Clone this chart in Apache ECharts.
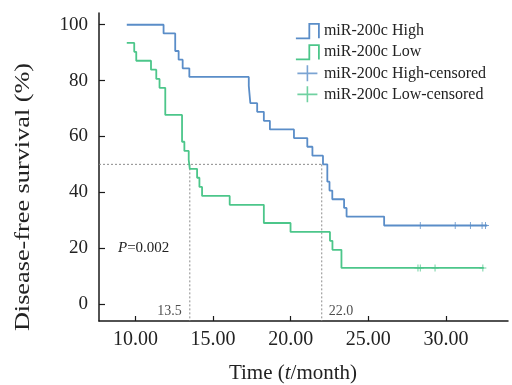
<!DOCTYPE html>
<html><head><meta charset="utf-8">
<script src="https://cdn.jsdelivr.net/npm/echarts@6/dist/echarts.min.js"></script>
<style>html,body{margin:0;padding:0;background:#fff}#c{width:512px;height:385px}</style>
</head><body><div id="c"></div>
<script>
// Kaplan-Meier steps
const highTimes = [9.44, 11.81, 12.56, 12.78, 13.04, 13.47, 17.30, 17.40, 17.84, 18.27, 18.66, 20.21, 21.07, 21.40, 22.08, 22.36, 22.50, 22.68, 23.44, 23.60, 26.02, 32.66];
const highSurv  = [100, 96.9, 90.6, 87.5, 84.4, 81.3, 78.1, 71.9, 68.8, 65.6, 62.5, 59.4, 56.3, 53.1, 50.0, 43.8, 40.6, 37.5, 34.4, 31.3, 28.1, 28.1];
const lowTimes  = [9.44, 9.92, 10.05, 11.00, 11.34, 11.55, 11.92, 13.00, 13.15, 13.43, 13.50, 13.97, 14.12, 14.29, 16.07, 18.27, 19.99, 22.53, 22.69, 23.27, 32.44];
const lowSurv   = [93.5, 90.3, 87.1, 83.9, 80.6, 77.4, 67.7, 58.1, 54.8, 51.6, 48.4, 45.2, 41.9, 38.7, 35.5, 29.0, 25.8, 22.6, 19.4, 12.9, 12.9];
const highCensTimes = [28.35, 30.60, 31.58, 32.33, 32.55];
const highCensSurv  = [28.1, 28.1, 28.1, 28.1, 28.1];
const lowCensTimes  = [28.20, 28.35, 29.30, 32.38];
const lowCensSurv   = [12.9, 12.9, 12.9, 12.9];
const xTicks = [10, 15, 20, 25, 30];
const yTicks = [0, 20, 40, 60, 80, 100];
const medianSurv = 50;
const medianLow = 13.5;
const medianHigh = 22.0;
const seriesNames = ['miR-200c High', 'miR-200c Low', 'miR-200c High-censored', 'miR-200c Low-censored'];
const pValueText = '0.002';

const X_MIN = 7.65, X_MAX = 34, Y_MIN = -6.1, Y_MAX = 104.2;
const BLUE = '#5a8dc8', GREEN = '#4cc68a';
const FONT = '"Liberation Serif", "Times New Roman", serif';
const zip = (a, b) => a.map((v, i) => [v, b[i]]);
const stepIcon = 'path://M0,15 L14,15 L14,0 L24,0 L24,15';
const plusIcon = 'path://M9.2,0h1.6v7.2h9.2v1.6h-9.2v7.2h-1.6v-7.2h-9.2v-1.6h9.2z';
const plusMark = 'path://M4.3,0h1.4v4.3h4.3v1.4h-4.3v4.3h-1.4v-4.3h-4.3v-1.4h4.3z';
const dashStyle = {color: '#8c8c8c', width: 1, type: [2, 2]};

const chart = echarts.init(document.getElementById('c'), null, {renderer: 'canvas'});
chart.setOption({
  animation: false,
  grid: {left: 99, right: 4, top: 13, bottom: 64, outerBoundsMode: 'none'},
  xAxis: {
    type: 'value', min: X_MIN, max: X_MAX,
    axisLine: {onZero: false, lineStyle: {color: '#1a1a1a', width: 1.5}},
    axisTick: {inside: true, length: 5, customValues: xTicks, lineStyle: {color: '#1a1a1a', width: 1.2}},
    axisLabel: {customValues: xTicks, formatter: v => v.toFixed(2), fontSize: 20, fontFamily: FONT, color: '#222', margin: 9},
    splitLine: {show: false}
  },
  yAxis: {
    type: 'value', min: Y_MIN, max: Y_MAX,
    axisLine: {show: true, onZero: false, lineStyle: {color: '#1a1a1a', width: 1.5}},
    axisTick: {show: true, inside: true, length: 6, customValues: yTicks, lineStyle: {color: '#1a1a1a', width: 1.2}},
    axisLabel: {customValues: yTicks, fontSize: 19, fontFamily: FONT, color: '#222', margin: 11},
    splitLine: {show: false}
  },
  legend: {
    orient: 'vertical', left: 295, top: 23, padding: 0, itemWidth: 23, itemHeight: 16, itemGap: 5,
    textStyle: {fontSize: 16, fontFamily: FONT, color: '#222'},
    data: [
      {name: seriesNames[0], icon: stepIcon, itemStyle: {color: 'rgba(0,0,0,0)', borderColor: BLUE, borderWidth: 1.8}},
      {name: seriesNames[1], icon: stepIcon, itemStyle: {color: 'rgba(0,0,0,0)', borderColor: GREEN, borderWidth: 1.8}},
      {name: seriesNames[2], icon: plusIcon},
      {name: seriesNames[3], icon: plusIcon}
    ]
  },
  series: [
    {name: seriesNames[0], type: 'line', step: 'end', symbol: 'none', data: zip(highTimes, highSurv),
     itemStyle: {color: BLUE}, lineStyle: {color: BLUE, width: 1.8}, z: 5},
    {name: seriesNames[1], type: 'line', step: 'end', symbol: 'none', data: zip(lowTimes, lowSurv),
     itemStyle: {color: GREEN}, lineStyle: {color: GREEN, width: 1.8}, z: 5},
    {name: seriesNames[2], type: 'scatter', symbol: plusMark, symbolSize: 7, data: zip(highCensTimes, highCensSurv),
     itemStyle: {color: BLUE}, z: 6},
    {name: seriesNames[3], type: 'scatter', symbol: plusMark, symbolSize: 7, data: zip(lowCensTimes, lowCensSurv),
     itemStyle: {color: GREEN}, z: 6},
    {type: 'line', symbol: 'none', silent: true, data: [[X_MIN, medianSurv], [medianHigh, medianSurv]], lineStyle: dashStyle, z: 2},
    {type: 'line', symbol: 'none', silent: true, data: [[medianLow, medianSurv], [medianLow, Y_MIN]], lineStyle: dashStyle, z: 2},
    {type: 'line', symbol: 'none', silent: true, data: [[medianHigh, medianSurv], [medianHigh, Y_MIN]], lineStyle: dashStyle, z: 2},
    {type: 'scatter', symbolSize: 0, silent: true, data: [[medianLow, -2.8]],
     label: {show: true, position: 'left', distance: 8, formatter: p => p.value[0].toFixed(1), fontSize: 14, fontFamily: FONT, color: '#222'}},
    {type: 'scatter', symbolSize: 0, silent: true, data: [[medianHigh, -2.5]],
     label: {show: true, position: 'right', distance: 7, formatter: p => p.value[0].toFixed(1), fontSize: 14, fontFamily: FONT, color: '#222'}}
  ],
  graphic: [
    {type: 'text', x: 118, y: 248, style: {
      text: '{i|P}{n|=' + pValueText + '}', textVerticalAlign: 'middle', textAlign: 'left',
      rich: {i: {fontSize: 15, fontFamily: FONT, fontStyle: 'italic', fill: '#222'}, n: {fontSize: 15, fontFamily: FONT, fill: '#222'}}}},
    {type: 'text', x: 293, y: 373, style: {
      text: '{n|Time (}{i|t}{n|/month)}', textAlign: 'center', textVerticalAlign: 'middle',
      rich: {i: {fontSize: 21, fontFamily: FONT, fontStyle: 'italic', fill: '#222'}, n: {fontSize: 21, fontFamily: FONT, fill: '#222'}}}},
    {type: 'text', x: 23, y: 197, rotation: Math.PI / 2, scaleX: 1.25, style: {
      text: 'Disease-free survival (%)', textAlign: 'center', textVerticalAlign: 'middle',
      fontSize: 21, fontFamily: FONT, fill: '#222'}}
  ]
});
</script></body></html>
